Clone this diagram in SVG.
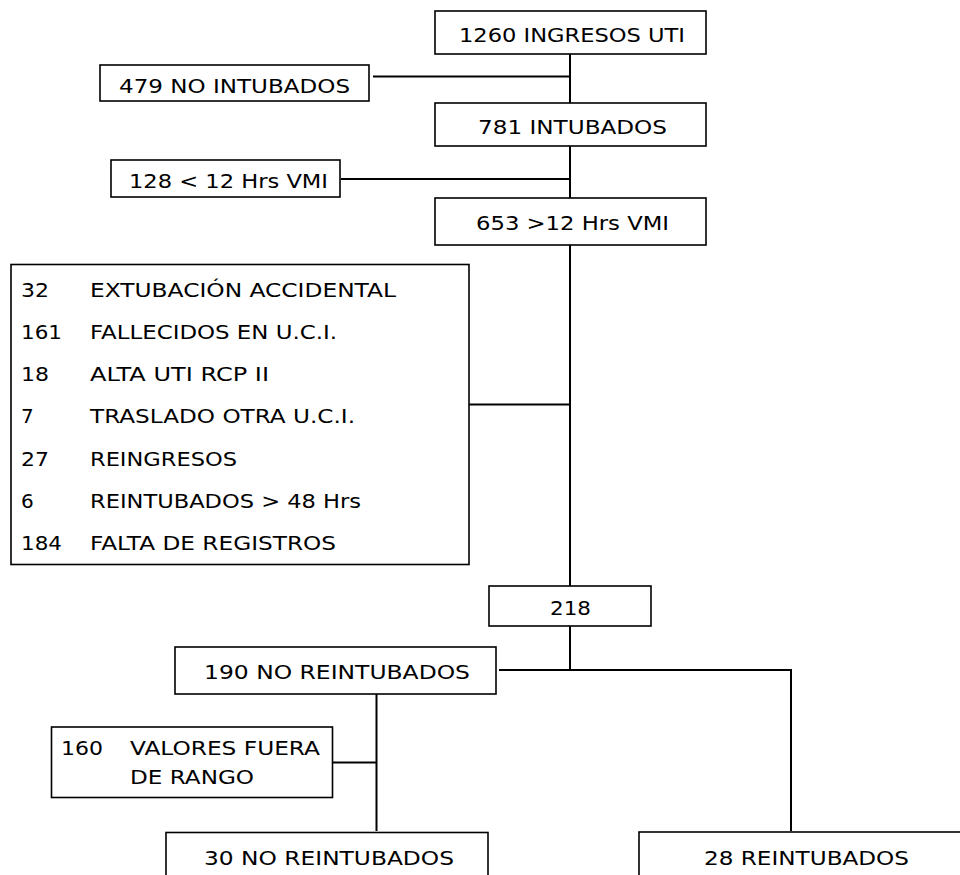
<svg xmlns="http://www.w3.org/2000/svg" width="960" height="875" viewBox="0 0 960 875">
<style>
.box{fill:#fff;stroke:#000;stroke-width:1.6}
.t{font-family:"DejaVu Sans","Liberation Sans",sans-serif;font-size:20px;fill:#000}
.c{fill:none;stroke:#000;stroke-width:2}
</style>
<rect width="960" height="875" fill="#fff"/>
<g id="connectors">
<path class="c" d="M570,54 V103 M373,76.5 H570 M570,146 V198 M341,179 H570 M570,245 V586 M469,404.5 H570 M570,626 V670 M499,670 H791 V831 M376.5,694 V831 M332.5,762.5 H376.5"/>
</g>
<g id="n1260"><rect class="box" x="435" y="11" width="271" height="43"/><text class="t" x="459" y="42" textLength="226" lengthAdjust="spacingAndGlyphs">1260 INGRESOS UTI</text></g>
<g id="n479"><rect class="box" x="100" y="65" width="269" height="36"/><text class="t" x="119" y="93" textLength="231" lengthAdjust="spacingAndGlyphs">479 NO INTUBADOS</text></g>
<g id="n781"><rect class="box" x="435" y="103" width="271" height="43"/><text class="t" x="478" y="133.5" textLength="189" lengthAdjust="spacingAndGlyphs">781 INTUBADOS</text></g>
<g id="n128"><rect class="box" x="111" y="160" width="229" height="37"/><text class="t" x="129" y="188" textLength="199" lengthAdjust="spacingAndGlyphs">128 &lt; 12 Hrs VMI</text></g>
<g id="n653"><rect class="box" x="435" y="198" width="271" height="47"/><text class="t" x="476" y="229.5" textLength="193" lengthAdjust="spacingAndGlyphs">653 &gt;12 Hrs VMI</text></g>
<g id="exclusions">
<rect class="box" x="11" y="264.5" width="458" height="300"/>
<text class="t" x="21" y="297" textLength="28" lengthAdjust="spacingAndGlyphs">32</text><text class="t" x="90" y="297" textLength="306" lengthAdjust="spacingAndGlyphs">EXTUBACIÓN ACCIDENTAL</text>
<text class="t" x="21" y="339" textLength="41" lengthAdjust="spacingAndGlyphs">161</text><text class="t" x="90" y="339" textLength="247" lengthAdjust="spacingAndGlyphs">FALLECIDOS EN U.C.I.</text>
<text class="t" x="21" y="381" textLength="28" lengthAdjust="spacingAndGlyphs">18</text><text class="t" x="90" y="381" textLength="179" lengthAdjust="spacingAndGlyphs">ALTA UTI RCP II</text>
<text class="t" x="21" y="423">7</text><text class="t" x="90" y="423" textLength="265" lengthAdjust="spacingAndGlyphs">TRASLADO OTRA U.C.I.</text>
<text class="t" x="21" y="465.5" textLength="28" lengthAdjust="spacingAndGlyphs">27</text><text class="t" x="90" y="465.5" textLength="147" lengthAdjust="spacingAndGlyphs">REINGRESOS</text>
<text class="t" x="21" y="508">6</text><text class="t" x="90" y="508" textLength="271" lengthAdjust="spacingAndGlyphs">REINTUBADOS &gt; 48 Hrs</text>
<text class="t" x="21" y="550" textLength="41" lengthAdjust="spacingAndGlyphs">184</text><text class="t" x="90" y="550" textLength="246" lengthAdjust="spacingAndGlyphs">FALTA DE REGISTROS</text>
</g>
<g id="n218"><rect class="box" x="489" y="586" width="162" height="40"/><text class="t" x="550" y="615" textLength="41" lengthAdjust="spacingAndGlyphs">218</text></g>
<g id="n190"><rect class="box" x="175" y="647" width="321" height="47"/><text class="t" x="204" y="679" textLength="266" lengthAdjust="spacingAndGlyphs">190 NO REINTUBADOS</text></g>
<g id="n160"><rect class="box" x="51.5" y="727" width="281" height="70.5"/><text class="t" x="61" y="755" textLength="42" lengthAdjust="spacingAndGlyphs">160</text><text class="t" x="130" y="755" textLength="190" lengthAdjust="spacingAndGlyphs">VALORES FUERA</text><text class="t" x="130" y="784" textLength="124" lengthAdjust="spacingAndGlyphs">DE RANGO</text></g>
<g id="n30"><rect class="box" x="166" y="832.5" width="322" height="60"/><text class="t" x="204" y="865" textLength="250" lengthAdjust="spacingAndGlyphs">30 NO REINTUBADOS</text></g>
<g id="n28"><rect class="box" x="639" y="832" width="340" height="60"/><text class="t" x="704" y="865" textLength="205" lengthAdjust="spacingAndGlyphs">28 REINTUBADOS</text></g>
</svg>
